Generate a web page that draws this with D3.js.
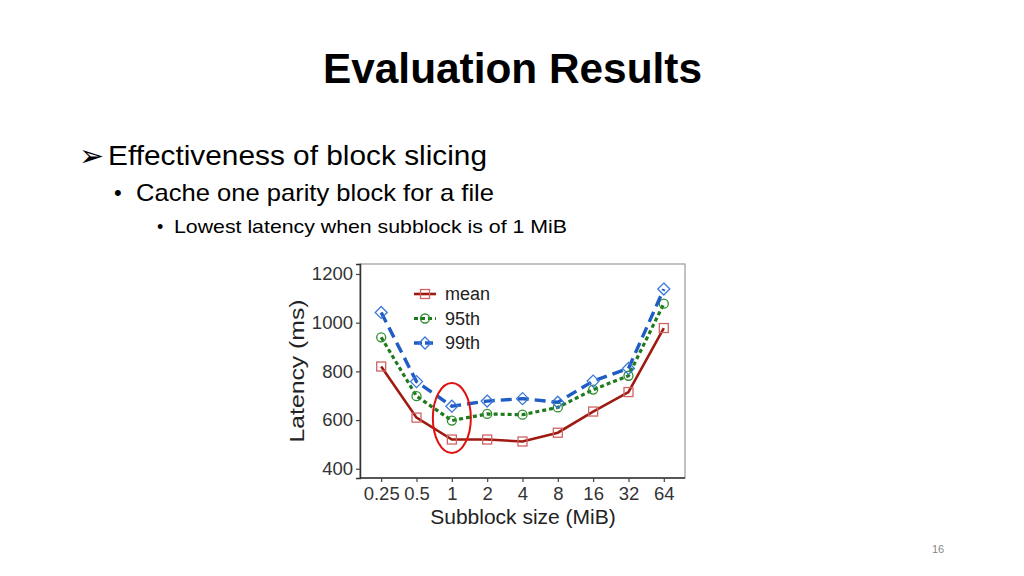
<!DOCTYPE html>
<html>
<head>
<meta charset="utf-8">
<script src="https://cdn.jsdelivr.net/npm/d3@7"></script>
<style>
  body { margin: 0; background: #fff; }
  svg { font-family: "Liberation Sans", Arial, sans-serif; }
</style>
</head>
<body>
<script>
var sizes = ["0.25", "0.5", "1", "2", "4", "8", "16", "32", "64"];
var meanVals = [820, 610, 520, 520, 512, 548, 635, 715, 978];
var p95Vals = [940, 698, 598, 625, 622, 652, 725, 782, 1078];
var p99Vals = [1042, 758, 657, 678, 688, 673, 760, 812, 1138];
var yTicks = [400, 600, 800, 1000, 1200];

var width = 1024, height = 576;

var svg = d3.select("body").append("svg")
    .attr("width", width)
    .attr("height", height);

// slide text
svg.append("text")
    .attr("x", 323).attr("y", 83)
    .attr("font-size", 43).attr("font-weight", "bold")
    .attr("textLength", 379).attr("lengthAdjust", "spacingAndGlyphs")
    .text("Evaluation Results");

svg.append("text").attr("x", 79).attr("y", 166).attr("font-size", 30).text("\u27A2");
svg.append("text").attr("x", 108).attr("y", 165).attr("font-size", 28)
    .attr("textLength", 379).attr("lengthAdjust", "spacingAndGlyphs")
    .text("Effectiveness of block slicing");
svg.append("text").attr("x", 114).attr("y", 200).attr("font-size", 22).text("\u2022");
svg.append("text").attr("x", 136).attr("y", 201).attr("font-size", 24)
    .attr("textLength", 358).attr("lengthAdjust", "spacingAndGlyphs")
    .text("Cache one parity block for a file");
svg.append("text").attr("x", 157).attr("y", 233).attr("font-size", 18).text("\u2022");
svg.append("text").attr("x", 174).attr("y", 233).attr("font-size", 18.5)
    .attr("textLength", 393).attr("lengthAdjust", "spacingAndGlyphs")
    .text("Lowest latency when subblock is of 1 MiB");

svg.append("text").attr("x", 938).attr("y", 553)
    .attr("text-anchor", "middle").attr("font-size", 11).attr("fill", "#888").text("16");

// chart panel
var panel = {left: 360, right: 685, top: 264, bottom: 478};

var x = d3.scalePoint().domain(sizes).range([panel.left, panel.right]).padding(0.6);
var y = d3.scaleLinear().domain([362, 1241]).range([panel.bottom, panel.top]);

svg.append("rect")
    .attr("x", panel.left).attr("y", panel.top)
    .attr("width", panel.right - panel.left).attr("height", panel.bottom - panel.top)
    .attr("fill", "#fff").attr("stroke", "#999").attr("stroke-width", 1.2);

var yAxis = svg.append("g")
    .attr("transform", "translate(" + panel.left + ",0)")
    .call(d3.axisLeft(y).tickValues(yTicks).tickFormat(d3.format("d")).tickSize(4).tickPadding(3));
var xAxis = svg.append("g")
    .attr("transform", "translate(0," + panel.bottom + ")")
    .call(d3.axisBottom(x).tickSize(4).tickPadding(5));

[yAxis, xAxis].forEach(function(g) {
  g.select(".domain").attr("stroke", "#333").attr("stroke-width", 1.5);
  g.selectAll(".tick line").attr("stroke", "#444").attr("stroke-width", 1.2);
  g.selectAll("text").attr("font-size", 18.5).attr("fill", "#333")
    .attr("font-family", "Liberation Sans, Arial, sans-serif");
});
xAxis.selectAll(".domain").attr("d", "M" + panel.left + ",0H" + panel.right);

svg.append("text")
    .attr("transform", "translate(304," + (panel.top + panel.bottom) / 2 + ") rotate(-90)")
    .attr("text-anchor", "middle").attr("font-size", 21).attr("fill", "#222")
    .attr("textLength", 143).attr("lengthAdjust", "spacingAndGlyphs")
    .text("Latency (ms)");
svg.append("text")
    .attr("x", (panel.left + panel.right) / 2 + 0.5).attr("y", 524)
    .attr("text-anchor", "middle").attr("font-size", 21).attr("fill", "#222")
    .text("Subblock size (MiB)");

var series = [
  {name: "mean", values: meanVals, color: "#9e1a10", mark: "#d06464", dash: null, width: 2.6},
  {name: "95th", values: p95Vals, color: "#1d7a1d", mark: "#2f8f2f", dash: "4,3", width: 3.2},
  {name: "99th", values: p99Vals, color: "#1f5cc4", mark: "#3b78d8", dash: "11,6", width: 3.4}
];

var line = d3.line()
    .x(function(d, i) { return x(sizes[i]); })
    .y(function(d) { return y(d); });

function drawMarker(g, s, cx, cy) {
  if (s.name === "mean") {
    g.append("rect").attr("x", cx - 4.5).attr("y", cy - 4.5).attr("width", 9).attr("height", 9)
      .attr("fill", "none").attr("stroke", s.mark).attr("stroke-width", 1.3);
  } else if (s.name === "95th") {
    g.append("circle").attr("cx", cx).attr("cy", cy).attr("r", 4.5)
      .attr("fill", "none").attr("stroke", s.mark).attr("stroke-width", 1.3);
  } else {
    g.append("path").attr("d", "M" + cx + "," + (cy - 6) + "L" + (cx + 6) + "," + cy + "L" + cx + "," + (cy + 6) + "L" + (cx - 6) + "," + cy + "Z")
      .attr("fill", "none").attr("stroke", s.mark).attr("stroke-width", 1.3);
  }
}

series.forEach(function(s) {
  svg.append("path")
      .datum(s.values)
      .attr("d", line)
      .attr("fill", "none")
      .attr("stroke", s.color)
      .attr("stroke-width", s.width)
      .attr("stroke-dasharray", s.dash);
  var mg = svg.append("g");
  s.values.forEach(function(v, i) { drawMarker(mg, s, x(sizes[i]), y(v)); });
});

// legend
var legend = svg.append("g");
series.forEach(function(s, i) {
  var ly = 294 + i * 24.5;
  legend.append("line")
      .attr("x1", 414).attr("x2", 436).attr("y1", ly).attr("y2", ly)
      .attr("stroke", s.color).attr("stroke-width", s.width)
      .attr("stroke-dasharray", s.dash ? (s.name === "95th" ? "4,3" : "8,3") : null);
  drawMarker(legend, s, 425, ly);
  legend.append("text")
      .attr("x", 445).attr("y", ly + 6)
      .attr("font-size", 18).attr("fill", "#222")
      .text(s.name);
});

// highlight ellipse
svg.append("ellipse")
    .attr("cx", x("1")).attr("cy", 418)
    .attr("rx", 19).attr("ry", 35)
    .attr("fill", "none").attr("stroke", "#e01010").attr("stroke-width", 2);
</script>
</body>
</html>
